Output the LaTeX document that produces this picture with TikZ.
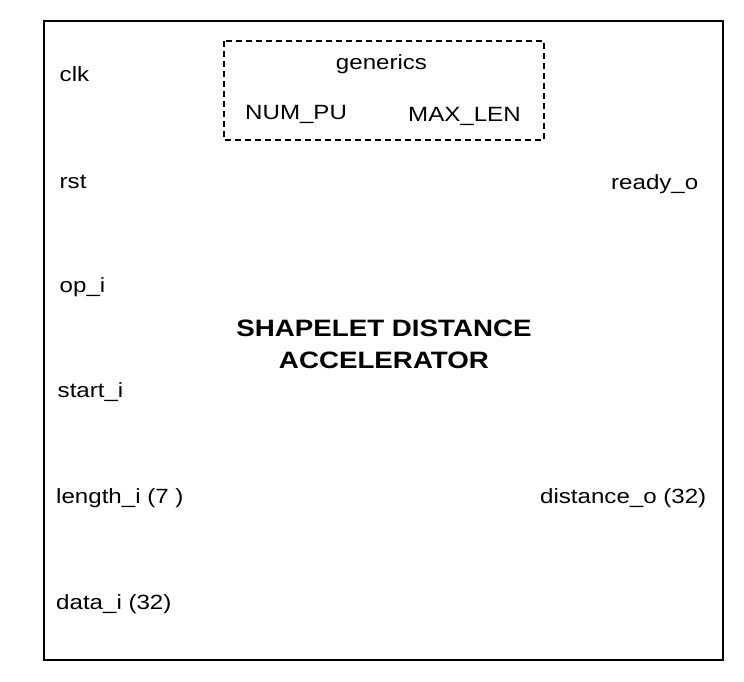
\documentclass[tikz,border=0pt]{standalone}
\usepackage{fontspec}
\setmainfont[FakeStretch=1.17]{Liberation Sans}
\usetikzlibrary{positioning}
\tikzset{
  port/.style={inner sep=0pt, font=\fontsize{20.6}{24}\selectfont},
  title/.style={inner sep=0pt, align=center, font=\fontsize{23.7}{32.3}\selectfont\bfseries},
  frame/.style={draw=black, line width=2pt},
  genbox/.style={draw=black, line width=2pt, dash pattern=on 6pt off 4pt},
}
\begin{document}
\begin{tikzpicture}[x=1pt,y=-1pt]
\useasboundingbox (0,0) rectangle (744,682);
\draw[frame] (44,21) rectangle (723,660);
\draw[genbox] (224,41) rectangle (544,140);
% inputs
\node[port, anchor=base west] (clk) at (59.5,82) {clk};
\node[port, anchor=base west] (rst) at (59.5,188.5) {rst};
\node[port, anchor=base west] (op) at (59.5,292) {op\_i};
\node[port, anchor=base west] (start) at (57.5,397.5) {start\_i};
\node[port, anchor=base west] (len) at (56,503) {length\_i (7 )};
\node[port, anchor=base west] (data) at (56,609) {data\_i (32)};
% outputs
\node[port, anchor=base east] (ready) at (698.5,189) {ready\_o};
\node[port, anchor=base east] (dist) at (706.5,503) {distance\_o (32)};
% generics
\node[port, anchor=base] (gen) at (381.5,70) {generics};
\node[port, anchor=base west] (num) at (245,120) {NUM\_PU};
\node[port, anchor=base west] (max) at (408,122) {MAX\_LEN};
% title
\node[title, anchor=base] (t1) at (384,336) {SHAPELET DISTANCE};
\node[title, anchor=base] (t2) at (384,368) {ACCELERATOR};
\end{tikzpicture}
\end{document}
